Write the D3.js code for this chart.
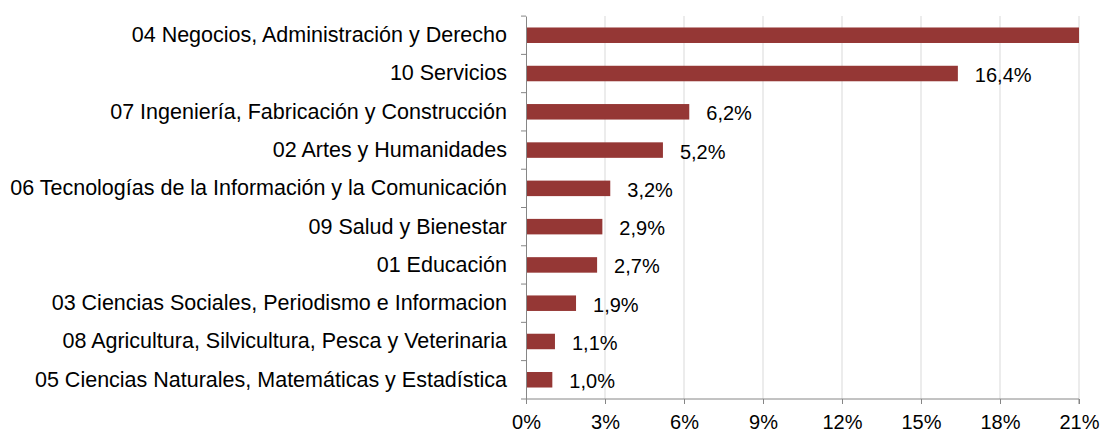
<!DOCTYPE html>
<html lang="es">
<head>
<meta charset="utf-8">
<title>Distribución por campo</title>
<script src="https://d3js.org/d3.v7.min.js"></script>
<style>
    body { margin: 0; background: #fff; }
    svg text { font-family: "Liberation Sans", Arial, sans-serif; fill: #000; }
</style>
</head>
<body>
<div id="chart"></div>
<script>
    // categories (top to bottom) and their shares in percent
    var categories = [
        "04 Negocios, Administración y Derecho",
        "10 Servicios",
        "07 Ingeniería, Fabricación y Construcción",
        "02 Artes y Humanidades",
        "06 Tecnologías de la Información y la Comunicación",
        "09 Salud y Bienestar",
        "01 Educación",
        "03 Ciencias Sociales, Periodismo e Informacion",
        "08 Agricultura, Silvicultura, Pesca y Veterinaria",
        "05 Ciencias Naturales, Matemáticas y Estadística"
    ];
    var values = [59.4, 16.4, 6.2, 5.2, 3.2, 2.9, 2.7, 1.9, 1.1, 1.0];
    var ticks = [0, 3, 6, 9, 12, 15, 18, 21];

    var width = 1101, height = 432;
    var margin = { top: 16, right: 22, bottom: 33, left: 526 };

    var svg = d3.select('#chart').append('svg')
        .attr('width', width)
        .attr('height', height);

    var x = d3.scaleLinear()
        .domain([0, 21])
        .range([margin.left, width - margin.right]);

    var y = d3.scaleBand()
        .domain(categories)
        .range([margin.top, height - margin.bottom])
        .paddingInner(0.595)
        .paddingOuter(0.3);

    var fmt = function (v) { return v.toFixed(1).replace('.', ',') + '%'; };

    // vertical gridlines
    svg.append('g')
        .selectAll('line')
        .data(ticks.slice(1))
        .enter().append('line')
        .attr('x1', function (d) { return x(d); })
        .attr('x2', function (d) { return x(d); })
        .attr('y1', margin.top)
        .attr('y2', height - margin.bottom)
        .attr('stroke', '#d9d9d9')
        .attr('stroke-width', 1);

    // clip bars at the axis maximum
    svg.append('clipPath').attr('id', 'plot')
        .append('rect')
        .attr('x', margin.left)
        .attr('y', 0)
        .attr('width', x(21) - margin.left)
        .attr('height', height);

    svg.append('g')
        .attr('clip-path', 'url(#plot)')
        .selectAll('rect')
        .data(values)
        .enter().append('rect')
        .attr('x', x(0))
        .attr('y', function (d, i) { return y(categories[i]); })
        .attr('width', function (d) { return x(d) - x(0); })
        .attr('height', y.bandwidth())
        .attr('fill', '#953735');

    // value labels (only where they fit inside the plot)
    svg.append('g')
        .selectAll('text')
        .data(values.filter(function (d) { return d < 21; }))
        .enter().append('text')
        .attr('x', function (d) { return x(d) + 17; })
        .attr('y', function (d) { return y(categories[values.indexOf(d)]) + y.bandwidth() / 2 + 1.5; })
        .attr('dy', '0.35em')
        .attr('font-size', '20px')
        .text(fmt);

    // x axis
    var xAxis = svg.append('g')
        .attr('transform', 'translate(0,' + (height - margin.bottom) + ')')
        .call(d3.axisBottom(x).tickValues(ticks).tickSize(5).tickPadding(14)
            .tickFormat(function (d) { return d + '%'; }));
    xAxis.select('.domain').attr('stroke', '#868686').attr('d',
        'M' + x(0) + ',0H' + x(21) + 'V5');
    xAxis.selectAll('.tick line').attr('stroke', '#868686');
    xAxis.selectAll('.tick text')
        .attr('font-size', '20px').attr('font-family', null)
        .attr('dy', null).attr('y', 30);

    // y axis
    var yAxis = svg.append('g')
        .attr('transform', 'translate(' + margin.left + ',0)')
        .call(d3.axisLeft(y).tickSize(0).tickPadding(19));
    yAxis.select('.domain').attr('stroke', '#868686');
    yAxis.selectAll('.tick text').attr('font-size', '21.5px').attr('font-family', null);

    // category separator ticks on the y axis
    var edges = categories.map(function (c) { return y(c) - y.step() * y.paddingInner() / 2; });
    edges.push(height - margin.bottom);
    yAxis.append('g').selectAll('line')
        .data(edges)
        .enter().append('line')
        .attr('x1', -5).attr('x2', 0)
        .attr('y1', function (d) { return d; })
        .attr('y2', function (d) { return d; })
        .attr('stroke', '#868686');
</script>
</body>
</html>
